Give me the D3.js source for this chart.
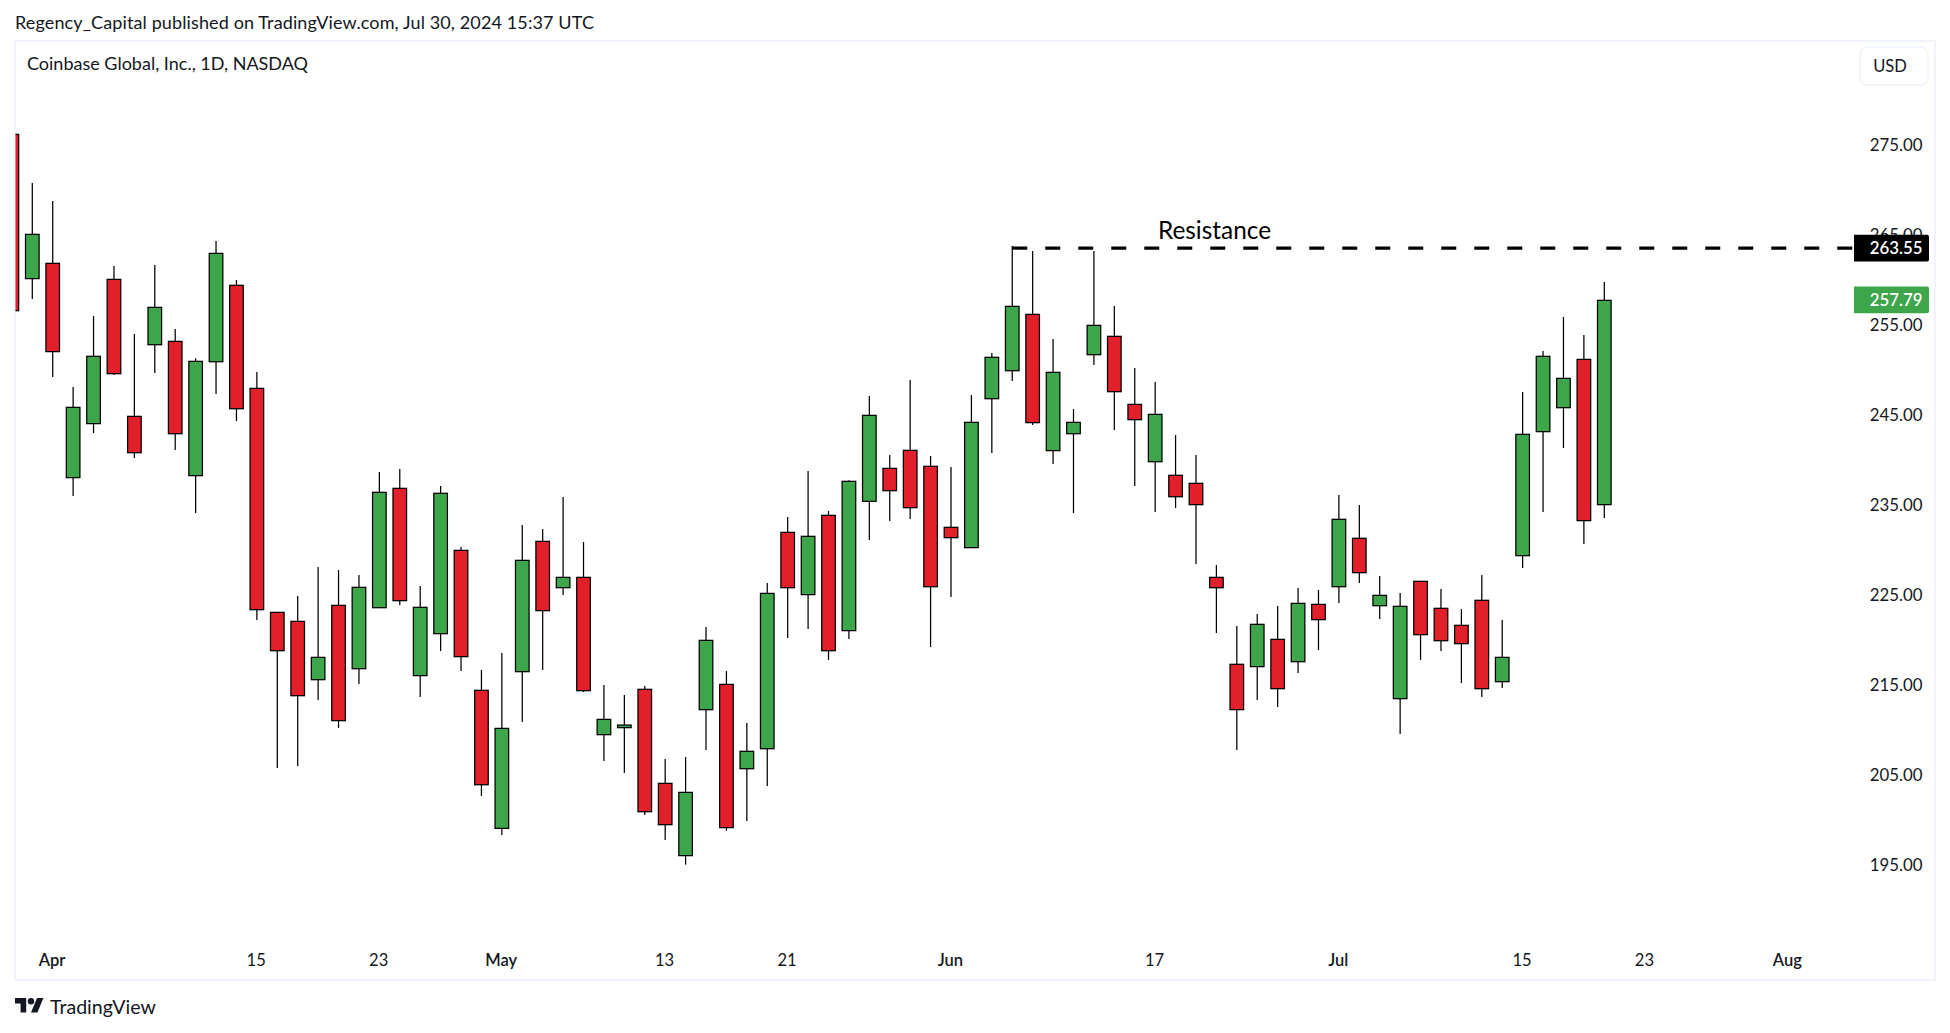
<!DOCTYPE html>
<html><head><meta charset="utf-8">
<script src="https://cdn.jsdelivr.net/npm/d3@7/dist/d3.min.js"></script>
<style>html,body{margin:0;padding:0;background:#fff;overflow:hidden}text{font-family:Lato,"Noto Sans",sans-serif;fill:#131722}</style>
</head><body><svg id="c" width="1950" height="1033"></svg>
<script>
// first entry is the bar cut off by the pane's left edge
const open=[276.18,260.15,261.85,238.04,244.04,260.07,244.85,252.81,253.18,238.26,250.92,259.41,247.96,223.07,222.07,215.59,223.85,216.81,223.59,236.85,216.04,220.70,229.96,214.41,199.07,216.48,230.96,225.81,226.96,209.48,210.26,214.52,204.07,196.04,212.26,215.07,205.70,207.92,231.96,225.04,233.85,221.04,235.41,239.07,241.07,239.30,232.52,230.26,246.81,249.92,256.18,241.04,242.92,251.70,253.74,246.18,239.81,238.30,237.41,226.96,217.30,217.04,220.07,217.59,223.96,225.92,231.30,223.81,213.48,226.52,223.52,221.63,224.41,215.37,229.37,243.15,245.81,251.18,235.04];
const high=[276.18,270.78,268.78,248.11,256.00,261.55,254.00,261.67,254.55,251.30,264.33,260.00,249.78,223.07,224.89,228.11,227.78,227.22,238.67,239.00,226.00,237.11,230.33,216.67,218.55,232.78,232.33,235.89,230.89,215.00,213.89,214.89,206.78,207.00,221.44,216.55,210.78,226.33,233.67,238.78,234.33,237.74,247.11,240.55,248.89,240.44,239.22,247.22,251.89,263.78,263.22,253.44,245.67,263.22,257.11,250.22,248.67,242.78,240.55,228.33,221.55,222.89,223.78,225.78,225.55,236.11,235.00,227.11,225.22,226.52,225.67,223.44,227.22,222.22,247.55,252.11,255.89,253.89,259.78];
const low=[256.59,257.89,249.22,236.00,243.00,249.44,240.22,249.67,241.11,234.11,247.33,244.33,222.22,205.78,206.00,213.33,210.22,215.11,223.59,223.89,213.67,218.78,216.55,202.67,198.33,210.89,216.67,225.00,214.22,206.55,205.22,200.55,197.78,195.04,207.78,198.78,199.89,203.78,220.22,221.22,217.78,220.11,231.11,233.22,233.44,219.22,224.78,230.26,240.78,248.78,243.89,239.55,234.11,250.55,243.33,237.11,234.22,234.67,228.44,220.78,207.78,213.33,212.55,216.33,218.89,224.11,226.33,222.33,209.55,217.78,218.78,215.22,213.67,214.67,228.00,234.22,241.33,230.67,233.55];
const close=[256.59,265.07,252.04,245.85,251.52,249.59,240.81,256.96,242.92,250.96,262.96,245.70,223.37,218.81,213.81,218.07,211.04,225.85,236.41,224.37,223.63,236.30,218.15,203.92,210.18,228.85,223.26,226.96,214.37,211.18,210.55,200.92,199.48,203.07,219.96,199.15,207.63,225.18,225.81,231.52,218.81,237.63,244.96,236.59,234.70,225.92,231.37,244.18,251.41,257.07,244.15,249.74,244.18,254.96,247.59,244.48,245.07,235.92,235.04,225.81,212.26,221.74,214.59,224.07,222.26,233.41,227.48,224.96,223.74,220.59,219.92,219.59,214.59,218.07,242.85,251.52,249.07,233.26,257.74];
const priceTicks=[195,205,215,225,235,245,255,265,275];
const dateTickPos=[1,11,17,23,31,37,45,55,64,73,79,86];
const dateTickLabels=["Apr","15","23","May","13","21","Jun","17","Jul","15","23","Aug"];
const boldTicks=["Apr","May","Jun","Jul","Aug"];
const resistance=263.55, lastPrice=257.79;
const greenCol="#3DA64A", redCol="#E1202A", frame="#f0f3fa";

const svg=d3.select("#c");
const x=d3.scaleLinear().domain([0,77]).range([32.3,1604.3]);
const y=d3.scaleLinear().domain([195,275]).range([865,145]);
const bars=open.map((o,i)=>({i:i-1,o,h:high[i],l:low[i],c:close[i]}));

svg.append("defs").append("clipPath").attr("id","pane").append("rect")
  .attr("x",15.5).attr("y",42).attr("width",1918).attr("height",937);

// frame
svg.append("rect").attr("x",15).attr("y",41).attr("width",1920).attr("height",939)
  .attr("fill","#fff").attr("stroke",frame).attr("stroke-width",2);

// header
svg.append("text").attr("x",15).attr("y",28.7).attr("font-size",18).attr("letter-spacing",0.12).text("Regency_Capital published on TradingView.com, Jul 30, 2024 15:37 UTC");
svg.append("text").attr("x",27).attr("y",69.7).attr("font-size",18).text("Coinbase Global, Inc., 1D, NASDAQ");

// candles
const g=svg.append("g").attr("clip-path","url(#pane)");
const k=g.selectAll("g").data(bars).join("g");
k.append("line").attr("x1",d=>x(d.i)).attr("x2",d=>x(d.i)).attr("y1",d=>y(d.h)).attr("y2",d=>y(d.l))
  .attr("stroke","#000").attr("stroke-width",1.25);
k.append("rect").attr("x",d=>x(d.i)-6.8).attr("width",13.6)
  .attr("y",d=>y(Math.max(d.o,d.c))).attr("height",d=>Math.abs(y(d.o)-y(d.c)))
  .attr("fill",d=>d.c>=d.o?greenCol:redCol).attr("stroke","#000").attr("stroke-width",1.25);

// price axis
const ya=svg.append("g").attr("transform","translate(1922.5,0.1)")
  .call(d3.axisRight(y).tickValues(priceTicks).tickFormat(d3.format(".2f")).tickSize(0).tickPadding(0));
ya.select(".domain").remove();
ya.selectAll("text").attr("text-anchor","end").attr("font-size",16.8);

// date axis
const xa=svg.append("g").attr("transform","translate(-1.2,954)")
  .call(d3.axisBottom(x).tickValues(dateTickPos).tickFormat((d,i)=>dateTickLabels[i]).tickSize(0).tickPadding(0));
xa.select(".domain").remove();
xa.selectAll("text").attr("y",0).attr("dy","0.72em").attr("font-size",16.5)
  .attr("font-weight",(d,i)=>boldTicks.includes(dateTickLabels[i])?600:400);

// resistance line and label
svg.append("line").attr("x1",x(48)).attr("x2",1854).attr("y1",y(resistance)).attr("y2",y(resistance))
  .attr("stroke","#000").attr("stroke-width",3.2).attr("stroke-dasharray","15 18");
svg.append("text").attr("x",1214.5).attr("y",238.6).attr("text-anchor","middle").attr("font-size",24.4).attr("style","fill:#000").text("Resistance");

// price tags
[[resistance,"#000"],[lastPrice,greenCol]].forEach(([v,c])=>{
  svg.append("path").attr("d",`M1854 ${y(v)-13.4}h73a2 2 0 0 1 2 2v22.8a2 2 0 0 1 -2 2h-73z`).attr("fill",c);
  svg.append("text").attr("x",1922.5).attr("y",y(v)+6.3).attr("text-anchor","end").attr("font-size",16.8)
    .attr("font-weight",600).attr("style","fill:#fff").text(v.toFixed(2));
});

// currency button
svg.append("rect").attr("x",1860).attr("y",47).attr("width",68).attr("height",38).attr("rx",7)
  .attr("fill","#fff").attr("stroke",frame).attr("stroke-width",1.5);
svg.append("text").attr("x",1890).attr("y",71.5).attr("text-anchor","middle").attr("font-size",16.5).text("USD");

// footer brand
const logo=svg.append("g").attr("transform","translate(15,994.8) scale(0.8)").attr("fill","#131722");
logo.append("path").attr("d","M14 22H7V11H0V4h14v18zM28 22h-8l7.5-18h8L28 22z");
logo.append("circle").attr("cx",20).attr("cy",8).attr("r",4);
svg.append("text").attr("x",50).attr("y",1014).attr("font-size",19.6).text("TradingView");
</script></body></html>
